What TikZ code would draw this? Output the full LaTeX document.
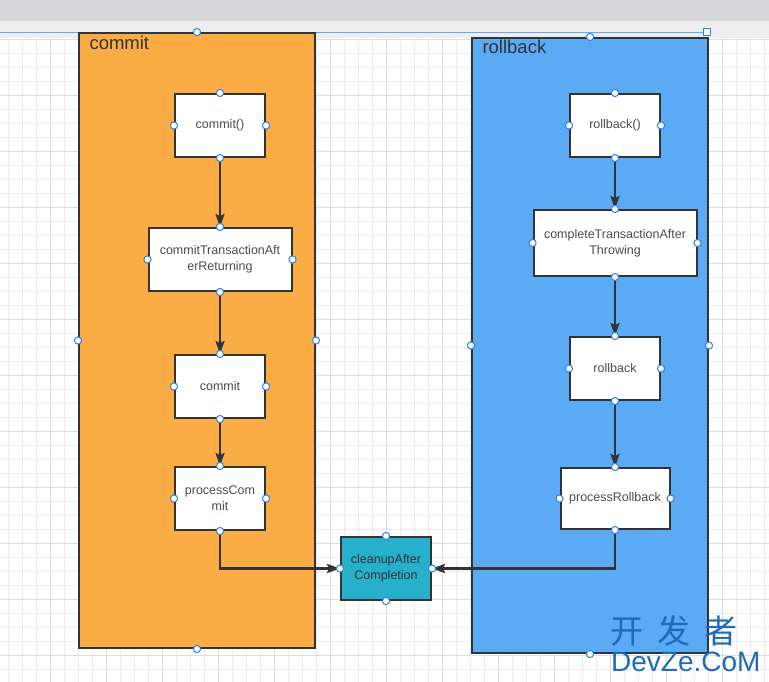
\documentclass[tikz,border=0pt]{standalone}
\usepackage{fontspec}
\setmainfont{Liberation Sans}
\newfontfamily\cjkfont{Noto Sans CJK SC}
\usetikzlibrary{positioning, arrows.meta, calc}

\definecolor{commitorange}{HTML}{FBAD45}
\definecolor{rollblue}{HTML}{5BAAF4}
\definecolor{cleanteal}{HTML}{26B0CB}
\definecolor{edgegray}{HTML}{333333}
\definecolor{handleblue}{HTML}{2F7FF0}
\definecolor{gridminor}{HTML}{ECECEC}
\definecolor{gridmajor}{HTML}{DDDDDD}
\definecolor{bardark}{HTML}{D8D8DA}
\definecolor{barlight}{HTML}{EEEEEE}
\definecolor{wmblue}{HTML}{1C6CB8}

\begin{document}
\begin{tikzpicture}[x=1pt, y=-1pt,
    lane/.style={draw=edgegray, line width=2pt, anchor=north west, inner sep=0pt},
    lanelabel/.style={anchor=base west, text=black!80, font=\fontsize{18.5}{20}\selectfont},
    stepbox/.style={draw=edgegray, fill=white, line width=2pt, minimum width=90pt,
        minimum height=63pt, align=center, inner sep=0pt, text=black!70,
        font=\fontsize{12.5}{16}\selectfont},
    flow/.style={draw=edgegray, line width=2.2pt, -{Stealth[length=13pt,width=9pt,inset=2pt]}},
    handle/.style={draw=handleblue, fill=white, line width=1pt}]

    % canvas
    \useasboundingbox (0,0) rectangle (769,682);
    \fill[white] (0,0) rectangle (769,682);
    \foreach \gx in {8.7,22.7,...,769} {
        \draw[gridminor, line width=0.8pt] (\gx,38) -- (\gx,682);
    }
    \foreach \gy in {39.3,53.3,...,682} {
        \draw[gridminor, line width=0.8pt] (0,\gy) -- (769,\gy);
    }
    \foreach \gx in {50.7,106.7,...,769} {
        \draw[gridmajor, line width=0.8pt] (\gx,38) -- (\gx,682);
    }
    \foreach \gy in {39.3,95.3,...,682} {
        \draw[gridmajor, line width=0.8pt] (0,\gy) -- (769,\gy);
    }
    \fill[bardark] (0,0) rectangle (769,21);
    \fill[barlight] (0,21) rectangle (769,38);
    \draw[handleblue!70, line width=0.8pt] (0,32) -- (707,32);
    \draw[handle] (703.5,28.5) rectangle (710.5,35.5);

    % lanes
    \node[lane, fill=commitorange, minimum width=236pt, minimum height=615pt] (commitlane) at (78,32) {};
    \node[lane, fill=rollblue, minimum width=236pt, minimum height=615pt] (rollbacklane) at (471,37) {};
    \node[lanelabel] (commitlabel) at (86,50) {commit};
    \node[lanelabel] (rollbacklabel) at (479,54) {rollback};

    % commit path
    \node[stepbox] (commitcall) at (220,125.5) {commit()};
    \node[stepbox, minimum width=143pt] (afterreturn) at (220,259.5) {commitTransactionAft\\erReturning};
    \node[stepbox] (docommit) at (220,386.5) {commit};
    \node[stepbox] (processcommit) at (220,498.5) {processCom\\mit};

    % rollback path
    \node[stepbox] (rollbackcall) at (615,125.5) {rollback()};
    \node[stepbox, minimum width=163pt, minimum height=66pt] (afterthrow) at (615,243) {completeTransactionAfter\\Throwing};
    \node[stepbox] (dorollback) at (615,368.5) {rollback};
    \node[stepbox, minimum width=109pt, minimum height=61pt] (processrollback) at (615,498.5) {processRollback};

    \node[stepbox, fill=cleanteal, text=black!80] (cleanup) at (386,568.5) {cleanupAfter\\Completion};

    \draw[flow] (commitcall.south) -- (afterreturn.north);
    \draw[flow] (afterreturn.south) -- (docommit.north);
    \draw[flow] (docommit.south) -- (processcommit.north);
    \draw[flow] (processcommit.south) |- (cleanup.west);
    \draw[flow] (rollbackcall.south) -- (afterthrow.north);
    \draw[flow] (afterthrow.south) -- (dorollback.north);
    \draw[flow] (dorollback.south) -- (processrollback.north);
    \draw[flow] (processrollback.south) |- (cleanup.east);

    % selection handles
    \foreach \n in {commitlane, rollbacklane, commitcall, afterreturn, docommit, processcommit,
                    rollbackcall, afterthrow, dorollback, processrollback, cleanup} {
        \foreach \a in {north, south, east, west} {
            \draw[handle] (\n.\a) circle (3.6pt);
        }
    }

    % watermark
    \node[anchor=base west, text=wmblue, font=\cjkfont\fontsize{33}{33}\selectfont, inner sep=0pt] (wmtitle) at (610,643) {开\hspace{14pt}发\hspace{14pt}者};
    \node[anchor=base west, text=wmblue, font=\fontsize{28}{28}\selectfont, inner sep=0pt] (wmsite) at (611,671) {DevZe.CoM};
\end{tikzpicture}
\end{document}
